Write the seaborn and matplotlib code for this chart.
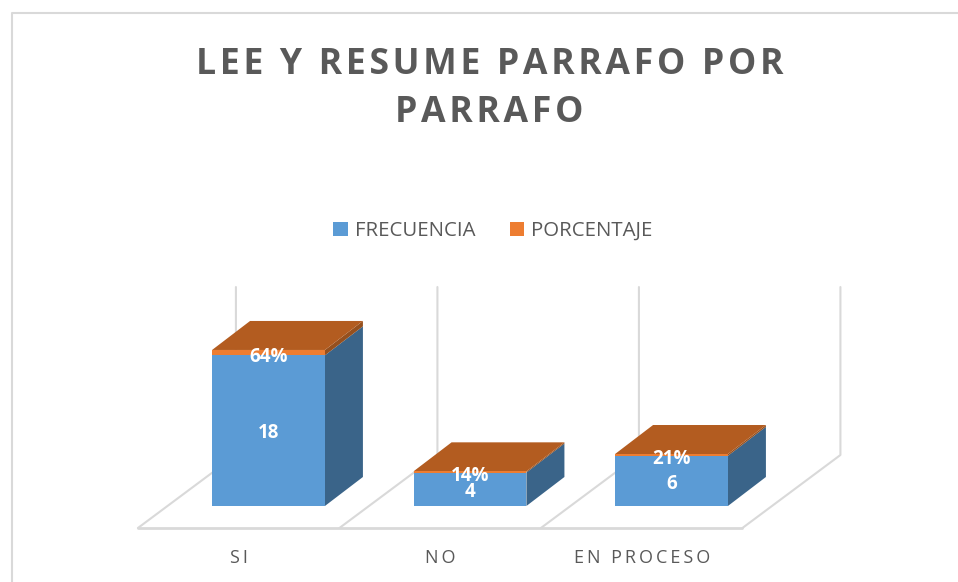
import matplotlib
matplotlib.use("Agg")
import matplotlib.pyplot as plt
import seaborn as sns
from matplotlib.lines import Line2D

## Data
categorias = ['SI', 'NO', 'EN PROCESO']
frecuencia = [18, 4, 6]
porcentaje = [0.64, 0.14, 0.21]
titulo = 'LEE Y RESUME PARRAFO POR\nPARRAFO'

AZUL, NARANJA = '#5B9BD5', '#ED7D31'
TECHO, LADO, LADO_N = '#B35C20', '#3A6489', '#96501E'
GRIS, TEXTO = '#D9D9D9', '#595959'


def espaciado(texto, sep):
    # matplotlib has no letter spacing, so put a narrow space between the letters
    return '\n'.join(sep.join(linea) for linea in texto.split('\n'))


sns.set_style("white")
plt.rcParams['font.family'] = ['Open Sans', 'DejaVu Sans']

W, H = 958, 582
fig = plt.figure(figsize=(W / 100, H / 100), dpi=100)

## Axes: floor front edge to top of the walls, 201.5 px per category, 8.37 px per unit
px_x, px_y = 201.5, 8.37
x0, x1 = -0.648, 2.841
y0, y1 = -2.63, 26.16
ax = fig.add_axes([(268.5 + x0 * px_x) / W, (H - 528) / H, (x1 - x0) * px_x / W, (y1 - y0) * px_y / H])

sns.barplot(x=categorias, y=frecuencia, color=AZUL, saturation=1, width=0.56, linewidth=0,
            errorbar=None, label='FRECUENCIA', ax=ax, zorder=3)
sns.barplot(x=categorias, y=porcentaje, bottom=frecuencia, color=NARANJA, saturation=1, width=0.56,
            linewidth=0, errorbar=None, label='PORCENTAJE', ax=ax, zorder=3)
ax.set_xlim(x0, x1)
ax.set_ylim(y0, y1)

## Depth of the bars and of the floor
dx, dy = 38 / px_x, 29 / px_y
fx, fy = 98 / px_x, 73 / px_y

for i in range(len(categorias) + 1):
    xf = x0 + i
    ax.plot([xf, xf + fx, xf + fx], [y0, y0 + fy, y1], color=GRIS, lw=1.5, zorder=1, clip_on=False)
ax.plot([x0, x0 + len(categorias)], [y0, y0], color=GRIS, lw=2, zorder=1, clip_on=False)

## Sides and tops of the bars, from the bars drawn by seaborn
for barra, naranja in zip(ax.containers[0], ax.containers[1]):
    xi, xd = barra.get_x(), barra.get_x() + barra.get_width()
    medio = barra.get_height()
    alto = medio + naranja.get_height()
    ax.fill([xd, xd + dx, xd + dx, xd], [0, dy, medio + dy, medio], color=LADO, lw=0, zorder=2)
    ax.fill([xd, xd + dx, xd + dx, xd], [medio, medio + dy, alto + dy, alto], color=LADO_N, lw=0, zorder=2)
    ax.fill([xi, xi + dx, xd + dx, xd], [alto, alto + dy, alto + dy, alto], color=TECHO, lw=0, zorder=2)

ax.bar_label(ax.containers[0], labels=[str(v) for v in frecuencia], label_type='center', padding=-2,
             color='white', fontsize=13.5, fontweight='bold', zorder=5)
ax.bar_label(ax.containers[1], labels=[f"{p:.0%}" for p in porcentaje], label_type='center', padding=-3,
             color='white', fontsize=13.5, fontweight='bold', zorder=5)

sns.despine(ax=ax, left=True, bottom=True)
ax.set_yticks([])
ax.set_xticks([x0 + i + 0.5 for i in range(len(categorias))])
ax.set_xticklabels([espaciado(c, '\u2009') for c in categorias], color=TEXTO, fontsize=13)
ax.tick_params(axis='x', length=0, pad=15)
ax.patch.set_alpha(0)

ax.legend(loc='center', bbox_to_anchor=(493 / W, 1 - 231 / H), bbox_transform=fig.transFigure, ncol=2,
          frameon=False, fontsize=14.7, labelcolor=TEXTO, handlelength=0.7, handleheight=0.7,
          handletextpad=0.35, columnspacing=1.7, borderpad=0)

fig.text(489.5 / W, 1 - 89 / H, espaciado(titulo, '\u200a'), ha='center', va='center',
         fontsize=25.7, fontweight='bold', color=TEXTO, linespacing=1.47)

## Chart frame (top and left edges only are inside the picture)
fig.add_artist(Line2D([11.5 / W, 11.5 / W, 1], [0, 1 - 13 / H, 1 - 13 / H], color=GRIS, lw=1.5))

fig.savefig('out.png', dpi=100)
